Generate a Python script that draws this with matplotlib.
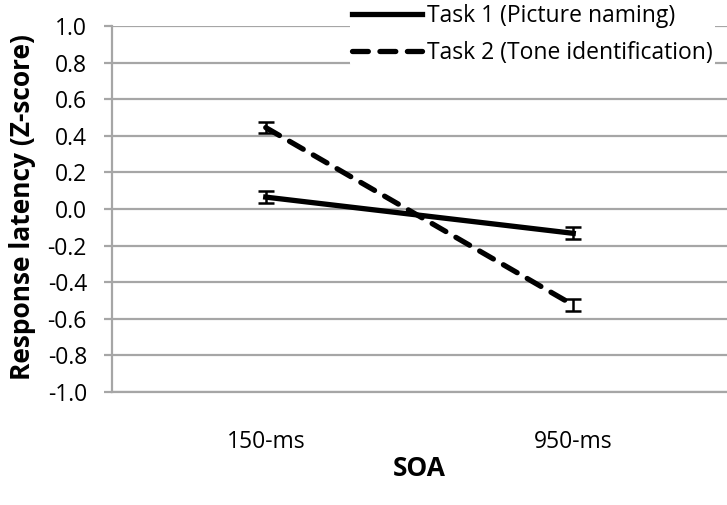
import numpy as np
import matplotlib
matplotlib.use('Agg')
import matplotlib.pyplot as plt

plt.rcParams['font.family'] = ['Open Sans', 'DejaVu Sans']

# SOA conditions and mean z-scored response latencies (with SE)
soa_labels = ['150-ms', '950-ms']
task1_mean = [0.065, -0.133]
task1_err = [0.033, 0.033]
task2_mean = [0.445, -0.525]
task2_err = [0.030, 0.035]
series_names = ['Task 1 (Picture naming)', 'Task 2 (Tone identification)']
y_ticks = np.round(np.arange(-1.0, 1.01, 0.2), 1)

W, H = 727, 505
fig = plt.figure(figsize=(W / 100, H / 100), dpi=100)
ax = fig.add_axes([112 / W, 1 - 392 / H, 615 / W, 366 / H])

x = np.arange(len(soa_labels))
grid_c = '#a6a6a6'

l1 = ax.errorbar(x, task1_mean, yerr=task1_err, color='black', lw=3.8,
                 ecolor='black', elinewidth=1.8, capsize=6, capthick=1.8,
                 label=series_names[0], zorder=3)
l2 = ax.errorbar(x, task2_mean, yerr=task2_err, color='black', lw=3.8,
                 ecolor='black', elinewidth=1.8, capsize=6, capthick=1.8,
                 label=series_names[1], zorder=3)
l2[0].set_linestyle((0, (3.0, 2.2)))
l2[0].set_dash_capstyle('round')

ax.set_xlim(-0.5, 1.5)
ax.set_ylim(-1.0, 1.0)
ax.set_yticks(y_ticks)
ax.set_yticklabels(['0.0' if abs(v) < 1e-9 else f'{v:.1f}' for v in y_ticks])
ax.set_xticks(x)
ax.set_xticklabels(soa_labels)

ax.yaxis.grid(True, color=grid_c, lw=1.6)
ax.set_axisbelow(True)
for s in ['top', 'right']:
    ax.spines[s].set_visible(False)
for s in ['left', 'bottom']:
    ax.spines[s].set_color(grid_c)
    ax.spines[s].set_linewidth(1.6)
ax.tick_params(axis='y', length=6, width=1.6, color=grid_c, labelsize=16.5, pad=12)
ax.tick_params(axis='x', length=0, labelsize=16.5, pad=27)

# axis titles placed in figure pixels
fig.text(23 / W, 1 - 207 / H, 'Response latency (Z-score)', rotation=90,
         ha='center', va='center', fontsize=19, fontweight='bold')
fig.text(419 / W, 1 - 468 / H, 'SOA', ha='center', va='center',
         fontsize=19, fontweight='bold')

leg = fig.legend(handles=[l1[0], l2[0]], labels=series_names, loc='upper left',
                 bbox_to_anchor=(350 / W, 1 - 2 / H), frameon=True, fontsize=16.5,
                 handlelength=3.05, handletextpad=0.22, labelspacing=0.55,
                 borderpad=0.1, borderaxespad=0.0)
leg.get_frame().set_edgecolor('none')
leg.get_frame().set_facecolor('white')
leg.get_frame().set_alpha(1.0)

fig.savefig('out.png', dpi=100)
